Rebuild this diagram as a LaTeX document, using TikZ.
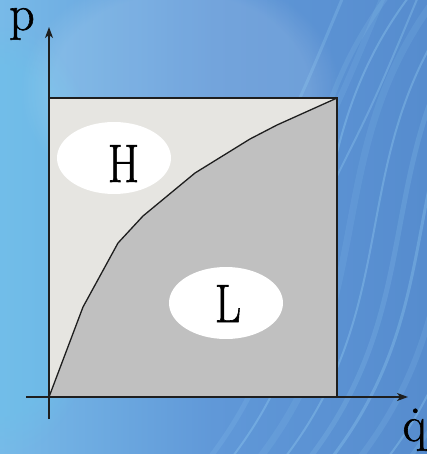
\documentclass[tikz,border=0pt]{standalone}
\usepackage{fontspec}
\usetikzlibrary{shapes.geometric,arrows.meta,fadings}
\newfontfamily\heavyfont{Latin Modern Roman}[FakeBold=1.2]
\definecolor{bgA}{RGB}{120,186,232}
\definecolor{bgB}{RGB}{96,152,216}
\definecolor{bgC}{RGB}{86,140,206}
\definecolor{streakc}{RGB}{165,222,250}
\definecolor{lightreg}{RGB}{230,229,225}
\definecolor{darkreg}{RGB}{192,192,192}
\definecolor{edge}{RGB}{30,30,30}
\tikzset{
  axis/.style={line width=1.6pt, draw=edge, -{Stealth[length=11pt,width=8pt,inset=3pt]}},
  blob/.style={ellipse, fill=white, draw=none, minimum width=114pt, minimum height=72pt, inner sep=0pt},
  lbl/.style={inner sep=0pt, anchor=base, xscale=0.84, font=\heavyfont\fontsize{54}{58}\selectfont},
  axlbl/.style={inner sep=0pt, font=\heavyfont\fontsize{50}{54}\selectfont},
  streak/.style={streakc, line cap=round},
  glow/.style={path fading=circle with fuzzy edge 20 percent}
}
\begin{document}
\begin{tikzpicture}[x=1pt,y=-1pt]
\useasboundingbox (0,0) rectangle (427,454);
% background
\shade[left color=bgA, right color=bgC, middle color=bgB] (0,0) rectangle (427,454);
\begin{scope}
\clip (0,0) rectangle (427,454);
\fill[bgA!90!cyan, opacity=0.5, glow] (0,240) ellipse (110pt and 220pt);
\fill[white, opacity=0.12, glow] (180,90) ellipse (160pt and 120pt);
\foreach \x/\w/\o in {200/5/0.12, 222/2/0.28, 250/7/0.10, 275/2/0.28, 300/5/0.15, 322/3/0.25, 350/6/0.12, 378/2/0.28, 400/4/0.16}{
  \draw[streak, line width=\w pt, opacity=\o] (\x,470) .. controls (\x+140,300) and (\x+60,150) .. (\x+200,-20);
}
\foreach \x/\w/\o in {260/3/0.2, 300/6/0.1, 335/2/0.25}{
  \draw[streak, line width=\w pt, opacity=\o] (\x,180) .. controls (\x+40,100) .. (\x+90,-20);
}
\end{scope}
% regions
\coordinate (O) at (49,397);
\coordinate (TL) at (49,98);
\coordinate (TR) at (337,98);
\coordinate (BR) at (337,397);
\fill[lightreg] (O) -- (TL) -- (TR) -- cycle;
\fill[darkreg] (O) -- (83,307) -- (118,243) -- (143,216) -- (195,173) -- (250,139) -- (277,125) -- (TR) -- (BR) -- cycle;
\draw[line width=1.3pt, draw=edge] (O) -- (83,307) -- (118,243) -- (143,216) -- (195,173) -- (250,139) -- (277,125) -- (TR);
\draw[line width=1.3pt, draw=edge] (O) rectangle (TR);
% ellipses and labels
\node[blob] (hblob) at (114,158) {};
\node[lbl] (hlab) at (123.5,182) {H};
\node[blob] (lblob) at (226,303) {};
\node[lbl] (llab) at (228,322) {L};
% axes
\coordinate (ybot) at (49,419);
\coordinate (ytop) at (49,27);
\coordinate (xleft) at (26,397);
\coordinate (xright) at (408,397);
\draw[axis] (ybot) -- (ytop);
\draw[axis] (xleft) -- (xright);
\node[axlbl, anchor=base west] (plab) at (9,30) {p};
\node[axlbl, anchor=base east] (qlab) at (427,441) {\.{q}};
\end{tikzpicture}
\end{document}
